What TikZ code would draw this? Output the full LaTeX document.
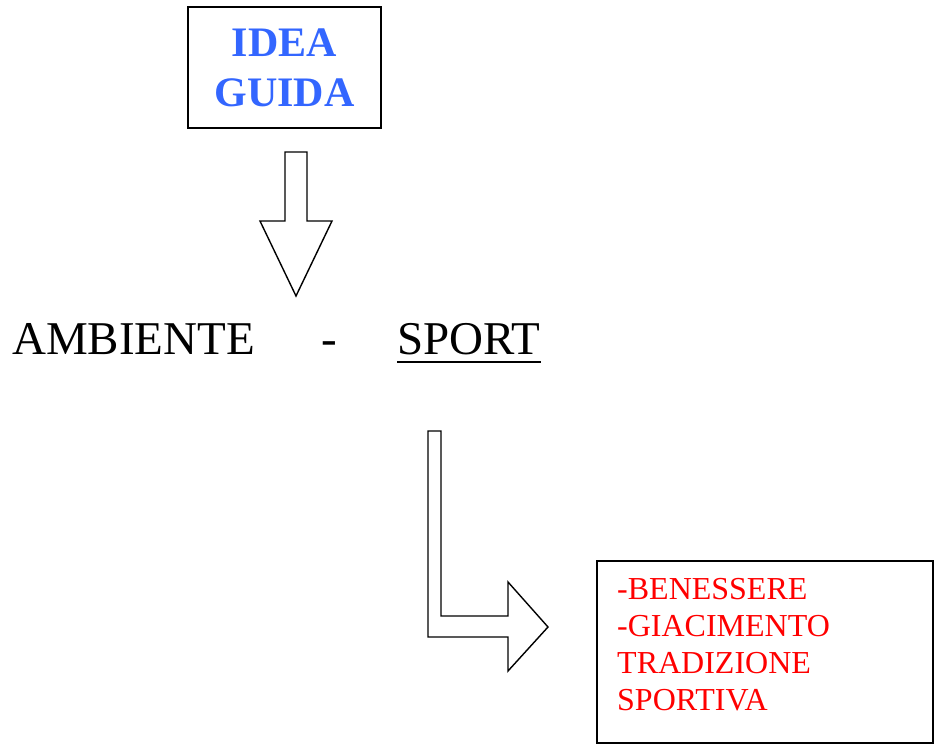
\documentclass[tikz,border=0pt]{standalone}
\usepackage{fontspec}
\setmainfont{Liberation Serif}
\usetikzlibrary{calc,positioning}
\definecolor{ideablu}{RGB}{51,102,255}

\begin{document}
\begin{tikzpicture}[x=1pt,y=-1pt,
    riquadro/.style={draw, line width=2pt, inner sep=0pt},
    freccia/.style={draw, line width=1.4pt, line join=miter},
    parola/.style={anchor=base west, inner sep=0pt, font=\fontsize{47}{50}\selectfont}]
    %%%%% START %%%%%
    \useasboundingbox (0,0) rectangle (935,744);

    \node[riquadro, minimum width=193pt, minimum height=121pt, align=center,
      font=\fontsize{42}{50}\selectfont\bfseries, text=ideablu] (idea) at (284.5,67.5) {IDEA\\GUIDA};

    % freccia in basso
    \draw[freccia] (285,152) -- (307,152) -- (307,221) -- (332,221) -- (296,296)
      -- (260,221) -- (285,221) -- cycle;

    \node[parola] (ambiente) at (12,354) {AMBIENTE};
    \node[parola] (trattino) at (321,354) {-};
    \node[parola] (sport) at (397,354) {SPORT};
    \draw[line width=2pt] ($(sport.base west)+(0,8)$) -- ($(sport.base east)+(0,8)$);

    % freccia a gomito
    \draw[freccia] (428,431) -- (441,431) -- (441,616) -- (508,616) -- (508,582)
      -- (548,627) -- (508,671) -- (508,637) -- (428,637) -- cycle;

    \node[riquadro, anchor=north west, minimum width=336pt, minimum height=182pt] (effetti) at (596,560) {};
    \node[anchor=base west, inner sep=0pt, align=left, text=red,
      font=\fontsize{32}{37}\selectfont] (voci) at (617,710)
      {-BENESSERE\\-GIACIMENTO\\TRADIZIONE\\SPORTIVA};
    %%%%% END %%%%%
\end{tikzpicture}
\end{document}
